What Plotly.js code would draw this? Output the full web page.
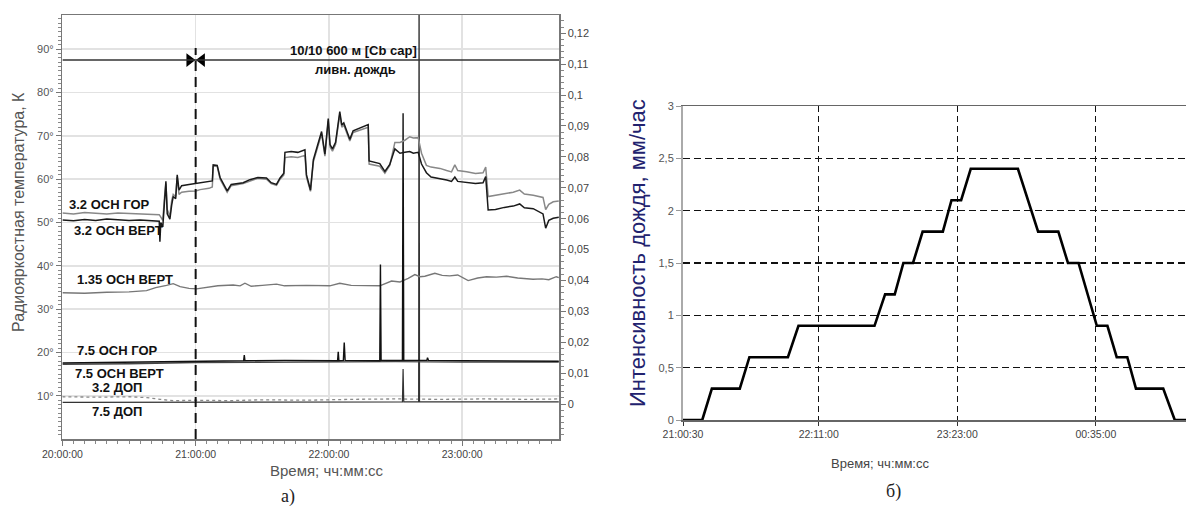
<!DOCTYPE html>
<html><head><meta charset="utf-8">
<script src="https://cdn.plot.ly/plotly-3.0.1.min.js"></script>
<style>html,body{margin:0;padding:0;background:#fff}#chart{width:1188px;height:512px}</style>
</head><body><div id="chart"></div>
<script>
// ---------- Panel а): minutes after 20:00:00 ----------
const t32 = [0,5,10,15,20,25,30,35,40,43.6,43.9,44.3,45.2,46.0,46.6,47.2,48.4,49.2,49.9,51.0,51.7,52.5,53.7,57,60,62,66,67.5,67.9,69.7,71,74.2,76,81.4,84.4,88,91.9,94,96.4,98,99.7,100.2,103,106,109.2,109.9,111.7,113,116.7,118.2,119.7,120.5,121.6,123,124.9,125.8,126.7,129.4,130.9,134,137.7,138.1,142.9,145.2,147.4,149.7,152,154.2,156.4,158,160.2,161.7,163.9,166,170,173,175.2,176.7,178,182,186,189.4,190.6,191.7,195,199,203,205.9,208,212,216.4,217.6,219,221,223.5];
const gor32 = [52.2,52.0,52.3,52.1,52.0,52.2,52.1,52.0,51.9,51.8,51.6,51.2,50.5,56.0,59.0,53.0,51.5,55.0,56.5,56.0,60.5,56.5,57.0,57.2,57.3,57.6,57.9,58.2,63.0,63.0,60.0,57.0,58.5,59.0,59.6,60.2,60.0,59.0,58.6,60.0,61.0,65.0,65.2,65.0,65.5,60.5,57.2,64.0,70.5,65.3,73.5,67.5,66.5,68.0,75.0,72.0,72.5,68.8,70.8,71.3,72.0,63.5,63.0,61.4,63.2,68.5,68.5,69.0,69.8,69.5,69.6,66.0,63.2,62.8,62.5,62.0,61.7,63.3,62.0,61.7,61.3,61.5,62.8,56.0,56.3,56.8,57.0,57.5,56.6,56.3,55.8,53.0,54.2,54.8,55.0];
const vert32 = [50.6,50.4,50.7,50.5,50.8,50.6,50.5,50.6,50.5,50.3,45.6,50.0,49.0,55.5,59.5,52.0,50.8,54.0,56.0,55.5,61.0,57.5,58.5,58.8,59.0,59.3,59.5,59.6,63.3,63.2,60.4,57.3,58.8,59.2,59.9,60.4,60.3,59.2,58.8,60.3,61.4,66.2,66.4,66.2,66.8,61.0,57.5,64.5,71.0,65.8,74.0,68.0,67.0,68.5,75.6,72.5,73.0,69.2,71.2,71.8,72.6,64.2,63.6,61.8,63.4,67.0,66.0,66.2,66.4,66.0,66.2,63.5,61.5,60.5,60.2,59.8,59.5,60.5,59.5,59.3,59.0,59.2,60.6,52.9,53.0,53.5,53.8,54.3,53.4,53.2,52.0,48.7,50.5,51.0,51.2];

const t135 = [0,10,20,30,37.9,42,46.9,49.9,53,57,60.4,65,70,76.9,80,82.2,85,90,96.4,100,110,120.4,124.9,130,138,142.9,148.2,152,155.7,158.7,161,163.2,167.7,171,174.4,178,182.7,187,191,195.4,200,205,211.9,216,219,222.4,223.5];
const vert135 = [33.8,33.7,33.9,34.0,34.3,35.0,35.5,35.9,35.2,34.8,34.7,35.0,35.4,35.6,35.4,36.0,35.3,35.5,35.8,35.4,35.5,35.4,36.0,35.5,35.4,35.4,36.5,36.3,37.1,38.0,37.5,37.6,38.3,37.8,37.7,37.9,36.6,37.2,37.5,37.4,37.6,37.2,36.9,37.0,36.8,37.5,37.3];

const t75gor = [0,20,40,60,80,81.6,81.9,82.2,100,120,123.9,124.2,124.5,126.5,126.9,127.3,140,142.9,143.2,143.5,153.1,153.4,153.7,160,164.1,164.4,164.8,180,200,223.5];
const gor75 = [17.6,17.7,17.8,18.0,18.1,18.1,19.4,18.1,18.2,18.0,18.1,20.2,18.1,18.2,22.3,18.2,18.1,18.1,40.3,18.2,18.2,75.2,18.2,18.2,18.2,18.8,18.2,18.1,18.1,18.0];
const t75vert = [0,30,60,90,120,150,180,223.5];
const vert75 = [17.3,17.4,17.7,17.8,17.8,17.9,17.8,17.8];

const t32dop = [0,15,30,38,44,50,60,75,90,110,130,150,170,190,210,223.5];
const dop32 = [9.8,9.7,9.8,9.6,9.2,8.9,9.0,8.9,9.1,9.0,9.2,9.3,9.2,9.3,9.2,9.3];
const t75dop = [0,60,120,153.1,153.4,153.7,160.4,160.6,160.8,223.5];
const dop75 = [8.5,8.6,8.6,8.6,16.2,8.6,8.6,125,8.6,8.6];

const rainStartMin = 60;      // 21:00:00 dashed line
const cloudLevelK = 87.5;     // cloud/rain annotation line
const rightTicks = [0,0.01,0.02,0.03,0.04,0.05,0.06,0.07,0.08,0.09,0.1,0.11,0.12];

// ---------- Panel б): rain intensity ----------
const rainTime = ['21:00:30','21:10:30','21:15:30','21:30:00','21:35:00','21:55:00','22:00:30','22:40:00','22:45:30','22:50:30','22:55:00','23:00:00','23:05:00','23:15:30','23:20:00','23:25:00','23:30:00','23:54:30','00:05:00','00:15:30','00:20:30','00:26:00','00:35:30','00:41:00','00:45:50','00:51:20','00:55:50','01:10:00','01:16:00','01:22:00'];
const rainVal = [0,0,0.3,0.3,0.6,0.6,0.9,0.9,1.2,1.2,1.5,1.5,1.8,1.8,2.1,2.1,2.4,2.4,1.8,1.8,1.5,1.5,0.9,0.9,0.6,0.6,0.3,0.3,0,0];
const rainTicks = ['21:00:30','22:11:00','23:23:00','00:35:00'];

// ---------- helpers ----------
const BASE_A = Date.UTC(2024,0,1,20,0,0);
const tA = m => new Date(BASE_A + m*60000).toISOString().replace('T',' ').replace('Z','');
const tB = s => (+s.slice(0,2) < 12 ? '2024-01-02 ' : '2024-01-01 ') + s;
const W = 1188, H = 512;
const px = x => x / W, py = y => 1 - y / H;

function line(t, v, color, width, dash) {
  return {x: t.map(tA), y: v, xaxis:'x', yaxis:'y', mode:'lines', hoverinfo:'skip',
          line:{color:color, width:width, dash:dash || 'solid'}};
}

const traces = [
  line(t32dop, dop32, '#8a8a8a', 1.3, 'dot'),
  line(t75dop, dop75, '#333', 1.2),
  line(t135, vert135, '#777', 1.4),
  line(t75vert, vert75, '#444', 1.4),
  line(t75gor, gor75, '#111', 1.4),
  line(t32, gor32, '#888', 1.5),
  line(t32, vert32, '#1a1a1a', 1.5),
  {x:[tA(rainStartMin-2.8), tA(rainStartMin+2.8)], y:[cloudLevelK, cloudLevelK], xaxis:'x', yaxis:'y',
   mode:'markers', hoverinfo:'skip', marker:{symbol:['triangle-right','triangle-left'], size:12, color:'#000'}},
  {x:[], y:[], xaxis:'x', yaxis:'y2', mode:'lines', hoverinfo:'skip'},
  {x: rainTime.map(tB), y: rainVal, xaxis:'x3', yaxis:'y3', mode:'lines', hoverinfo:'skip',
   line:{color:'#000', width:2.6}}
];

const boldLbl = {family:'Liberation Sans, Arial, sans-serif', size:13, color:'#111', weight:'bold'};
function lbl(text, x, y, anchor) {
  return {text:'<b>'+text+'</b>', x:px(x), y:py(y), xref:'paper', yref:'paper', showarrow:false,
          xanchor:anchor || 'left', yanchor:'middle', font:boldLbl};
}
function txt(text, x, y, font, angle) {
  return {text:text, x:px(x), y:py(y), xref:'paper', yref:'paper', showarrow:false,
          xanchor:'center', yanchor:'middle', font:font, textangle:angle || 0};
}

const layout = {
  width: W, height: H, margin:{l:0, r:0, t:0, b:0},
  paper_bgcolor:'#fff', plot_bgcolor:'rgba(0,0,0,0)', showlegend:false,
  separators:', ',
  font:{family:'Liberation Sans, Arial, sans-serif', color:'#444', size:11},
  xaxis:{domain:[px(62.4), px(559)], anchor:'y', type:'date',
    range:[tA(0), tA(223.6)], tick0:tA(0), dtick:3600000, tickformat:'%H:%M:%S',
    ticks:'outside', ticklen:5, tickcolor:'#777',
    minor:{dtick:300000, tick0:tA(0), ticks:'outside', ticklen:3, tickcolor:'#888', showgrid:false},
    showgrid:true, gridcolor:'#e2e2e2', gridwidth:1.5,
    showline:true, linecolor:'#777', linewidth:1.5, mirror:true, zeroline:false,
    tickfont:{size:10.5, color:'#444'}},
  yaxis:{domain:[py(439), py(15)], anchor:'x', range:[0.05, 97.9],
    tick0:0, dtick:10, ticksuffix:'°',
    ticks:'outside', ticklen:5, tickcolor:'#777',
    minor:{dtick:1, tick0:0, ticks:'outside', ticklen:3, tickcolor:'#888', showgrid:false},
    showgrid:true, gridcolor:'#e2e2e2', gridwidth:1.5,
    showline:true, linecolor:'#777', linewidth:1.5, mirror:true, zeroline:false,
    tickfont:{size:11, color:'#555'}},
  yaxis2:{overlaying:'y', side:'right', anchor:'x', range:[-0.0113, 0.1259],
    tickmode:'array', tickvals:rightTicks, ticks:'outside', ticklen:5, tickcolor:'#777',
    minor:{tickmode:'linear', tick0:0, dtick:0.002, ticks:'outside', ticklen:3, tickcolor:'#888', showgrid:false},
    showgrid:false, zeroline:false, showline:true, linecolor:'#777', linewidth:1.5,
    tickfont:{size:11, color:'#444'}},
  xaxis3:{domain:[px(683), px(1186)], anchor:'y3', type:'date',
    range:[tB('21:00:30'), tB('01:21:50')],
    tickmode:'array', tickvals:rainTicks.map(tB), ticktext:rainTicks,
    ticks:'outside', ticklen:4, tickcolor:'#333',
    showgrid:true, gridcolor:'#111', griddash:'6px,4px', gridwidth:1.2,
    showline:true, linecolor:'#666', linewidth:1.5, mirror:true, zeroline:false,
    tickfont:{size:10.5, color:'#444'}},
  yaxis3:{domain:[py(420), py(106)], anchor:'x3', range:[0, 3], dtick:0.5, tick0:0,
    ticks:'outside', ticklen:5, tickcolor:'#999',
    showgrid:true, gridcolor:'#111', griddash:'7px,4px', gridwidth:1.2,
    showline:true, linecolor:'#aaa', linewidth:2, zeroline:false,
    tickfont:{size:11, color:'#555'}},
  shapes:[
    {type:'line', xref:'x', yref:'y', x0:tA(0), x1:tA(223.6), y0:cloudLevelK, y1:cloudLevelK,
     line:{color:'#333', width:1.5}},
    {type:'line', xref:'x', yref:'y', x0:tA(rainStartMin), x1:tA(rainStartMin), y0:0.05, y1:90.3,
     line:{color:'#111', width:2, dash:'10px,6px'}}
  ],
  annotations:[
    txt('Радиояркостная температура, К', 18, 212, {size:16, color:'#555'}, -90),
    txt('Время; чч:мм:сс', 327, 470, {size:15, color:'#555'}),
    txt('а)', 288, 496, {family:'Liberation Serif, Times New Roman, serif', size:18, color:'#222'}),
    txt('Интенсивность дождя, мм/час', 637, 253, {size:22, color:'#22226e'}, -90),
    txt('Время; чч:мм:сс', 880, 463, {size:13, color:'#444'}),
    txt('б)', 893, 491, {family:'Liberation Serif, Times New Roman, serif', size:18, color:'#222'}),
    lbl('3.2 ОСН ГОР', 67, 204),
    lbl('3.2 ОСН ВЕРТ', 72, 230),
    lbl('1.35 ОСН ВЕРТ', 75, 279),
    lbl('7.5 ОСН ГОР', 75, 350),
    lbl('7.5 ОСН ВЕРТ', 73, 373),
    lbl('3.2 ДОП', 90, 387),
    lbl('7.5 ДОП', 90, 411),
    lbl('10/10 600 м [Cb сар]', 354, 50, 'center'),
    lbl('ливн. дождь', 355, 69, 'center')
  ]
};

Plotly.newPlot('chart', traces, layout, {staticPlot:true, displayModeBar:false});
</script>
</body></html>
